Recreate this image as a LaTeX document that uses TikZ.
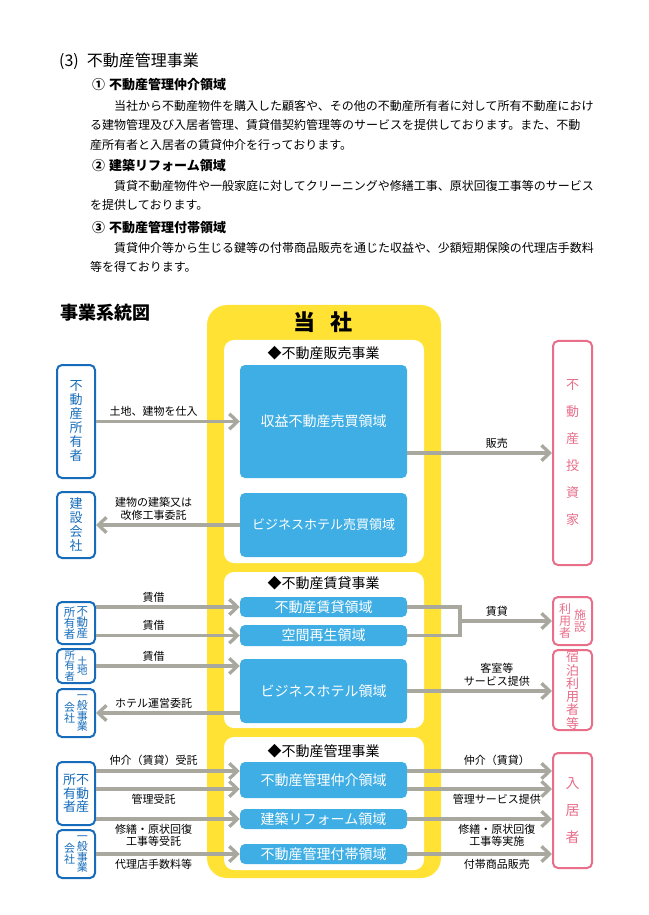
\documentclass[tikz,border=0pt]{standalone}
\usepackage{fontspec}
\setmainfont{Noto Sans CJK JP}
\usetikzlibrary{arrows.meta,positioning,calc}
\definecolor{sunyellow}{RGB}{255,226,52}
\definecolor{areablue}{RGB}{62,174,228}
\definecolor{ownerblue}{RGB}{22,108,186}
\definecolor{clientpink}{RGB}{233,110,138}
\definecolor{flowgray}{RGB}{168,168,158}

\newlength{\pxu}
\setlength{\pxu}{0.3mm}
\newcommand{\pxfont}[2]{\fontsize{#1\pxu}{#2\pxu}\selectfont}
\newcommand{\tate}[1]{\parbox[c]{1em}{\centering #1}}

\tikzset{
  panel/.style={fill=white, rounded corners=3mm, minimum width=60mm, inner sep=0pt},
  areabox/.style={fill=areablue, rounded corners=1.5mm, text=white, minimum width=50.1mm,
    inner sep=0pt, font=\pxfont{14}{16}},
  ownerbox/.style={draw=ownerblue, line width=0.6mm, fill=white, rounded corners=1.5mm,
    text=ownerblue, minimum width=11.4mm, inner sep=0pt},
  clientbox/.style={draw=clientpink, line width=0.6mm, fill=white, rounded corners=1.5mm,
    text=clientpink, minimum width=11.7mm, inner sep=0pt},
  flow/.style={draw=flowgray, line width=1mm, -{Straight Barb[length=2.4mm,width=4.6mm]}},
  flowline/.style={draw=flowgray, line width=1mm},
  flowlabel/.style={font=\pxfont{11}{12.5}, align=center, inner sep=1mm},
  paneltitle/.style={font=\pxfont{14}{16}}
}

\begin{document}
\begin{tikzpicture}[x=0.3mm, y=-0.3mm]
\useasboundingbox (0,0) rectangle (648,915);

% ================= TOP: TEXT =================
\node[anchor=west, font=\pxfont{16}{18}] (secttl) at (55,61) {(3)\hspace{2.4mm}不動産管理事業};

\node[anchor=west, font=\pxfont{13}{15}\bfseries] (sub1) at (88,85) {①\hspace{1.2mm}不動産管理仲介領域};
\node[anchor=north west, align=left, font=\pxfont{12}{19.5}, inner sep=0pt] (txt1) at (90,100)
{\hspace*{24\pxu}当社から不動産物件を購入した顧客や、その他の不動産所有者に対して所有不動産におけ\\
る建物管理及び入居者管理、賃貸借契約管理等のサービスを提供しております。また、不動\\
産所有者と入居者の賃貸仲介を行っております。};

\node[anchor=west, font=\pxfont{13}{15}\bfseries] (sub2) at (88,166) {②\hspace{1.2mm}建築リフォーム領域};
\node[anchor=north west, align=left, font=\pxfont{12}{19.5}, inner sep=0pt] (txt2) at (90,180)
{\hspace*{24\pxu}賃貸不動産物件や一般家庭に対してクリーニングや修繕工事、原状回復工事等のサービス\\
を提供しております。};

\node[anchor=west, font=\pxfont{13}{15}\bfseries] (sub3) at (88,228) {③\hspace{1.2mm}不動産管理付帯領域};
\node[anchor=north west, align=left, font=\pxfont{12}{19.5}, inner sep=0pt] (txt3) at (90,242)
{\hspace*{24\pxu}賃貸仲介等から生じる鍵等の付帯商品販売を通じた収益や、少額短期保険の代理店手数料\\
等を得ております。};

% ================= DIAGRAM: COMPANY =================
\node[anchor=west, font=\pxfont{18}{20}\bfseries] (hdr) at (56,313) {事業系統図};

\node[fill=sunyellow, rounded corners=6mm, minimum width=70.2mm, minimum height=171.9mm,
  inner sep=0pt] (base) at (324,591.5) {};
\node[font=\pxfont{22}{24}\bfseries] (ttl) at (323,322) {当\hspace{4.8mm}社};

% panels
\node[panel, minimum height=66.9mm] (sale) at (324,451.5) {};
\node[panel, minimum height=46.8mm] (rent) at (324,650) {};
\node[panel, minimum height=39.9mm] (mgmt) at (324,803.5) {};

\node[paneltitle] (saleT) at (323.5,353) {◆不動産販売事業};
\node[paneltitle] (rentT) at (323.5,583) {◆不動産賃貸事業};
\node[paneltitle] (mgmtT) at (323.5,751) {◆不動産管理事業};

% areas
\node[areabox, minimum height=33.9mm] (bs1) at (323.5,421.5) {収益不動産売買領域};
\node[areabox, minimum height=19.2mm, font=\pxfont{13}{15}] (bs2) at (323.5,525) {ビジネスホテル売買領域};
\node[areabox, minimum height=6mm] (br1) at (323.5,607) {不動産賃貸領域};
\node[areabox, minimum height=6.3mm] (br2) at (323.5,635.5) {空間再生領域};
\node[areabox, minimum height=19.2mm] (br3) at (323.5,691) {ビジネスホテル領域};
\node[areabox, minimum height=10.8mm] (bm1) at (323.5,780) {不動産管理仲介領域};
\node[areabox, minimum height=6mm] (bm2) at (323.5,819) {建築リフォーム領域};
\node[areabox, minimum height=6mm] (bm3) at (323.5,854) {不動産管理付帯領域};

% ================= LEFT: PARTNERS =================
\node[ownerbox, minimum height=33.9mm, font=\pxfont{13}{14}] (lA) at (76,421.5) {\tate{不\\動\\産\\所\\有\\者}};
\node[ownerbox, minimum height=19.8mm, font=\pxfont{13}{14}] (lB) at (76,525) {\tate{建\\設\\会\\社}};
\node[ownerbox, minimum height=12.6mm, font=\pxfont{11.5}{11}] (lC) at (76,623)
  {\tate{所\\有\\者}\hspace{0.4mm}\tate{不\\動\\産}};
\node[ownerbox, minimum height=10.2mm, font=\pxfont{10.5}{9.5}] (lD) at (76,666)
  {\tate{所\\有\\者}\hspace{0.6mm}\tate{土\\地}};
\node[ownerbox, minimum height=14.4mm, font=\pxfont{11}{10.5}] (lE) at (76,713)
  {\tate{会\\社}\hspace{0.5mm}\tate{一\\般\\事\\業}};
\node[ownerbox, minimum height=18.9mm, font=\pxfont{13}{13.5}] (lF) at (76,793.5)
  {\tate{所\\有\\者}\tate{不\\動\\産}};
\node[ownerbox, minimum height=14.4mm, font=\pxfont{11}{10.5}] (lG) at (76,854)
  {\tate{会\\社}\hspace{0.5mm}\tate{一\\般\\事\\業}};

% ================= RIGHT: CUSTOMERS =================
\node[clientbox, minimum height=67.2mm, font=\pxfont{13}{27}] (rA) at (572.5,453) {\tate{不\\動\\産\\投\\資\\家}};
\node[clientbox, minimum height=14.4mm, font=\pxfont{12}{12}] (rB) at (572.5,621)
  {\tate{利\\用\\者}\hspace{0.9mm}\tate{施\\設}};
\node[clientbox, minimum height=24mm, font=\pxfont{13}{13.3}] (rC) at (572.5,690) {\tate{宿\\泊\\利\\用\\者\\等}};
\node[clientbox, minimum height=34.5mm, font=\pxfont{14}{27}] (rD) at (572.5,810.5) {\tate{入\\居\\者}};

% ================= FLOWS: SALE =================
\draw[flow] (lA.east) -- (bs1.west) node[flowlabel, above, pos=0.4] (fBuy) {土地、建物を仕入};
\draw[flow] (bs2.west) -- (lB.east) node[flowlabel, above, pos=0.6] (fBuild) {建物の建築又は\\改修工事委託};
\draw[flow] (bs1.east |- rA) -- (rA.west) node[flowlabel, above, pos=0.62] (fSell) {販売};

% ================= FLOWS: RENT =================
\draw[flow] (lC.east |- br1) -- (br1.west) node[flowlabel, above, pos=0.4] (fRent1) {賃借};
\draw[flow] (lC.east |- br2) -- (br2.west) node[flowlabel, above, pos=0.4] (fRent2) {賃借};
\draw[flow] (lD.east) -- (lD.east -| br3.west) node[flowlabel, above, pos=0.4] (fRent3) {賃借};
\draw[flow] (br3.west |- lE) -- (lE.east) node[flowlabel, above, pos=0.6] (fHotel) {ホテル運営委託};

\coordinate (jn) at (460,621);
\draw[flowline] (br1.east) -- (br1.east -| jn) -- (br2.east -| jn) -- (br2.east);
\draw[flow] (jn) -- (jn -| rB.west) node[flowlabel, above, pos=0.4] (fLend) {賃貸};
\draw[flow] (br3.east) -- (br3.east -| rC.west) node[flowlabel, above, pos=0.62] (fRoom) {客室等\\サービス提供};

% ================= FLOWS: MANAGEMENT =================
\coordinate (m1in) at ([yshift=2.7mm]bm1.west);
\coordinate (m2in) at ([yshift=-2.7mm]bm1.west);
\coordinate (m1out) at ([yshift=2.7mm]bm1.east);
\coordinate (m2out) at ([yshift=-2.7mm]bm1.east);

\draw[flow] (lF.east |- m1in) -- (m1in) node[flowlabel, above, pos=0.4] (fAgent) {仲介（賃貸）受託};
\draw[flow] (lF.east |- m2in) -- (m2in) node[flowlabel, below, pos=0.4] (fManage) {管理受託};
\draw[flow] (lF.east |- bm2) -- (bm2.west) node[flowlabel, below, pos=0.4] (fRepair) {修繕・原状回復\\工事等受託};
\draw[flow] (lG.east) -- (bm3.west) node[flowlabel, below, pos=0.4] (fFee) {代理店手数料等};

\draw[flow] (m1out) -- (m1out -| rD.west) node[flowlabel, above, pos=0.62] (fAgentOut) {仲介（賃貸）};
\draw[flow] (m2out) -- (m2out -| rD.west) node[flowlabel, below, pos=0.62] (fService) {管理サービス提供};
\draw[flow] (bm2.east) -- (bm2.east -| rD.west) node[flowlabel, below, pos=0.62] (fWork) {修繕・原状回復\\工事等実施};
\draw[flow] (bm3.east) -- (bm3.east -| rD.west) node[flowlabel, below, pos=0.62] (fGoods) {付帯商品販売};

\end{tikzpicture}
\end{document}
